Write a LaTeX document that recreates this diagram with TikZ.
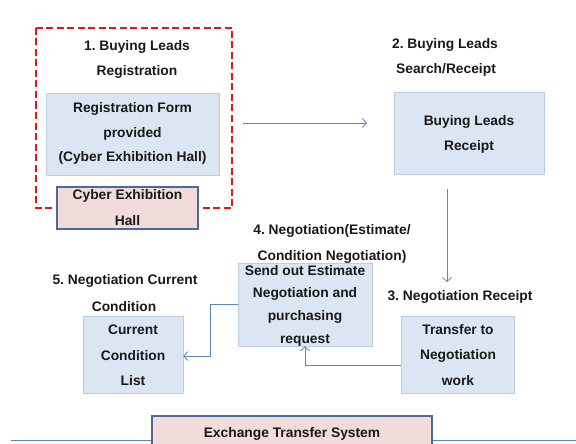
\documentclass[tikz,border=0pt]{standalone}
\usepackage{fontspec}
\setmainfont{Liberation Sans}
\frenchspacing
\usetikzlibrary{arrows.meta}
\definecolor{boxblue}{HTML}{DCE6F2}
\definecolor{boxedge}{HTML}{B9CDE5}
\definecolor{pinkfill}{HTML}{F2DCDB}
\definecolor{pinkedge}{HTML}{4A6A9A}
\definecolor{arrowblue}{HTML}{5B85BD}
\definecolor{dashred}{HTML}{E8141B}
\tikzset{
  bluebox/.style={draw=boxedge, line width=0.6pt, fill=boxblue, inner sep=0pt},
  pinkbox/.style={draw=pinkedge, line width=1.6pt, fill=pinkfill, inner sep=0pt},
  txt/.style={inner sep=0pt, font=\frenchspacing\bfseries\fontsize{13.8}{15}\selectfont, text=black!90},
  conn/.style={draw=arrowblue, line width=0.8pt, -{Straight Barb[length=4pt,width=9pt,line width=0.8pt]}},
}
\begin{document}
\begin{tikzpicture}[x=1pt,y=-1pt]
\useasboundingbox (0,0) rectangle (576,444);
% red dashed group
\draw[dashred, line width=2.4pt, dash pattern=on 7pt off 3.5pt] (36,28) rectangle (232,208);
\node[txt] (t1a) at (137,47) {1. Buying Leads};
\node[txt] (t1b) at (137,72) {Registration};
% box 1
\node[bluebox, minimum width=173pt, minimum height=82pt] (b1) at (132.5,134) {};
\node[txt] (b1a) at (132.5,109) {Registration Form};
\node[txt] (b1b) at (132.5,134) {provided};
\node[txt] (b1c) at (132.5,158) {(Cyber Exhibition Hall)};
% pink box
\node[pinkbox, minimum width=141pt, minimum height=42pt] (pk) at (127.5,208) {};
\node[txt] (pka) at (127.5,196) {Cyber Exhibition};
\node[txt] (pkb) at (127.5,221) {Hall};
% step 2
\node[txt] (t2a) at (445,45) {2. Buying Leads};
\node[txt] (t2b) at (446,70) {Search/Receipt};
\node[bluebox, minimum width=150pt, minimum height=82pt] (b2) at (469,133) {};
\node[txt] (b2a) at (469,122) {Buying Leads};
\node[txt] (b2b) at (469,147) {Receipt};
% step 3
\node[txt] (t3) at (460,297) {3. Negotiation Receipt};
\node[bluebox, minimum width=113pt, minimum height=77pt] (b3) at (457.5,354.5) {};
\node[txt] (b3a) at (458,330) {Transfer to};
\node[txt] (b3b) at (458,356) {Negotiation};
\node[txt] (b3c) at (458,381) {work};
% step 4
\node[txt] (t4a) at (332,231) {4. Negotiation(Estimate/};
\node[bluebox, minimum width=134pt, minimum height=83pt] (b4) at (305,304.5) {};
\node[txt] (t4b) at (332,257) {Condition Negotiation)};
\node[txt] (b4a) at (305,271) {Send out Estimate};
\node[txt] (b4b) at (305,294) {Negotiation and};
\node[txt] (b4c) at (305,317) {purchasing};
\node[txt] (b4d) at (305,340) {request};
% step 5
\node[txt] (t5a) at (125,281) {5. Negotiation Current};
\node[txt] (t5b) at (124,307) {Condition};
\node[bluebox, minimum width=100pt, minimum height=77pt] (b5) at (133,354.5) {};
\node[txt] (b5a) at (133,330) {Current};
\node[txt] (b5b) at (133,356) {Condition};
\node[txt] (b5c) at (133,381) {List};
% bottom
\coordinate (l0) at (11,440);
\coordinate (l1) at (576,440);
\draw[draw=arrowblue!80!gray, line width=0.7pt] (l0) -- (l1);
\node[pinkbox, line width=1.4pt, minimum width=280pt, minimum height=40pt] (ex) at (292,436) {};
\node[txt] (exa) at (292,434) {Exchange Transfer System};
% connectors
\coordinate (c1s) at (243,123);
\coordinate (c1e) at (367,123);
\draw[conn] (c1s) -- (c1e);
\coordinate (c2s) at (447,189);
\coordinate (c2e) at (447,282);
\draw[conn] (c2s) -- (c2e);
\draw[conn] (b3.west |- 0,365) -| (b4.south);
\draw[conn] (b4.west |- 0,304) -- (210,304) |- (b5.east |- 0,356);
\end{tikzpicture}
\end{document}
